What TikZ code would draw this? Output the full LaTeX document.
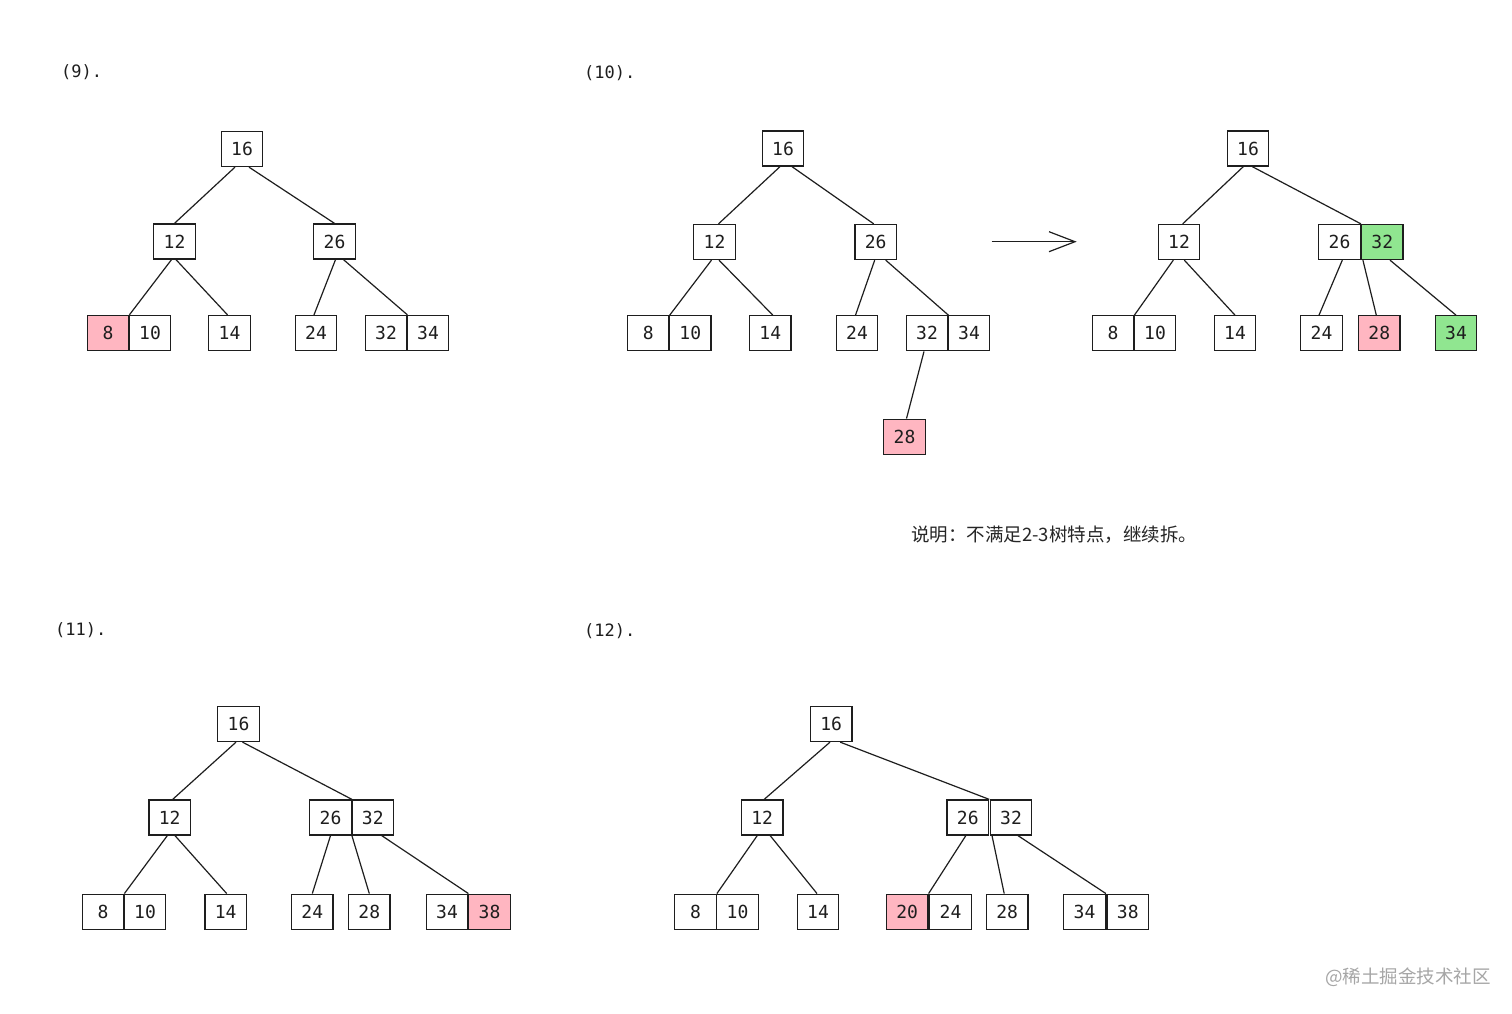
\documentclass[tikz,border=0pt]{standalone}
\usepackage{fontspec}
\newfontfamily\keyfont{DejaVu Sans Mono}
\newfontfamily\cjk{Noto Sans CJK SC}
\usetikzlibrary{arrows.meta}
\definecolor{pinkfill}{RGB}{255,182,193}
\definecolor{greenfill}{RGB}{144,230,144}
\definecolor{inkc}{RGB}{30,30,30}
\tikzset{
  keybox/.style={draw=inkc, line width=1.3pt, minimum width=41.5pt, minimum height=35pt, inner sep=0pt, fill=white, font=\keyfont\fontsize{18}{21}\selectfont, text=inkc},
  pinkbox/.style={keybox, fill=pinkfill},
  greenbox/.style={keybox, fill=greenfill},
  edge/.style={draw=inkc, line width=1.2pt},
  steplabel/.style={anchor=west, inner sep=0pt, font=\keyfont\fontsize{17}{20}\selectfont, text=inkc},
  note/.style={anchor=west, inner sep=0pt, font=\cjk\fontsize{18.5}{21}\selectfont, text=black!85}
}
\begin{document}
\begin{tikzpicture}[x=1pt,y=-1pt]
\useasboundingbox[fill=white] (0,0) rectangle (1512,1014);

% labels
\node[steplabel] (l9) at (61,72) {(9).};
\node[steplabel] (l10) at (584,73) {(10).};
\node[steplabel] (l11) at (55,630) {(11).};
\node[steplabel] (l12) at (584,631) {(12).};

% ---------- panel 9 ----------
\node[keybox] (a16) at (242,149) {16};
\node[keybox] (a12) at (174.5,241.5) {12};
\node[keybox] (a26) at (334.5,241.5) {26};
\node[pinkbox] (a8) at (108,333) {8};
\node[keybox] (a10) at (150,333) {10};
\node[keybox] (a14) at (229.5,333) {14};
\node[keybox] (a24) at (316,333) {24};
\node[keybox] (a32) at (386,333) {32};
\node[keybox] (a34) at (428,333) {34};
\draw[edge] ([xshift=-7pt]a16.south) -- (a12.north);
\draw[edge] ([xshift=7pt]a16.south) -- (a26.north);
\draw[edge] ([xshift=-3pt]a12.south) -- (a8.north east);
\draw[edge] ([xshift=1.5pt]a12.south) -- ([xshift=-2pt]a14.north);
\draw[edge] ([xshift=1pt]a26.south) -- ([xshift=-2pt]a24.north);
\draw[edge] ([xshift=9pt]a26.south) -- (a32.north east);

% ---------- panel 10 left ----------
\node[keybox] (b16) at (783,148.5) {16};
\node[keybox] (b12) at (714.5,242) {12};
\node[keybox] (b26) at (875.7,242) {26};
\node[keybox] (b8) at (648.3,333.3) {8};
\node[keybox] (b10) at (690.3,333.3) {10};
\node[keybox] (b14) at (770.3,333.3) {14};
\node[keybox] (b24) at (857,333.3) {24};
\node[keybox] (b32) at (927,333.3) {32};
\node[keybox] (b34) at (969,333.3) {34};
\node[pinkbox] (b28) at (904.5,436.7) {28};
\draw[edge] ([xshift=-3pt]b16.south) -- ([xshift=4pt]b12.north);
\draw[edge] ([xshift=9pt]b16.south) -- ([xshift=-2pt]b26.north);
\draw[edge] ([xshift=-3pt]b12.south) -- (b8.north east);
\draw[edge] ([xshift=4.5pt]b12.south) -- ([xshift=2.5pt]b14.north);
\draw[edge] ([xshift=-1pt]b26.south) -- ([xshift=-1.5pt]b24.north);
\draw[edge] ([xshift=10pt]b26.south) -- (b32.north east);
\draw[edge] ([xshift=-3pt]b32.south) -- ([xshift=2pt]b28.north);

% arrow
\coordinate (arrS) at (991.7,241.7);
\coordinate (arrE) at (1076.7,241.7);
\draw[edge, -{Straight Barb[length=26pt,width=20pt,line width=1.2pt]}] (arrS) -- (arrE);

% ---------- panel 10 right ----------
\node[keybox] (c16) at (1248,148.5) {16};
\node[keybox] (c12) at (1179,242) {12};
\node[keybox] (c26) at (1339.5,242) {26};
\node[greenbox] (c32) at (1382.3,242) {32};
\node[keybox] (c8) at (1113,333.3) {8};
\node[keybox] (c10) at (1155,333.3) {10};
\node[keybox] (c14) at (1235,333.3) {14};
\node[keybox] (c24) at (1321.5,333.3) {24};
\node[pinkbox] (c28) at (1379.3,333.3) {28};
\node[greenbox] (c34) at (1456,333.3) {34};
\draw[edge] ([xshift=-4.7pt]c16.south) -- ([xshift=3.7pt]c12.north);
\draw[edge] ([xshift=4.3pt]c16.south) -- (c26.north east);
\draw[edge] ([xshift=-5.7pt]c12.south) -- (c8.north east);
\draw[edge] ([xshift=5.3pt]c12.south) -- (c14.north);
\draw[edge] ([xshift=2.8pt]c26.south) -- ([xshift=-2.5pt]c24.north);
\draw[edge] ([xshift=2pt]c26.south east) -- ([xshift=-3pt]c28.north);
\draw[edge] ([xshift=7.7pt]c32.south) -- (c34.north);

% note
\node[note] (note) at (911,535) {说明：不满足2-3树特点，继续拆。};

% ---------- panel 11 ----------
\node[keybox] (d16) at (238.5,724) {16};
\node[keybox] (d12) at (169.7,817.5) {12};
\node[keybox] (d26) at (330.5,817.5) {26};
\node[keybox] (d32) at (372.8,817.5) {32};
\node[keybox] (d8) at (103,911.7) {8};
\node[keybox] (d10) at (145,911.7) {10};
\node[keybox] (d14) at (225.7,911.7) {14};
\node[keybox] (d24) at (312.3,911.7) {24};
\node[keybox] (d28) at (369.3,911.7) {28};
\node[keybox] (d34) at (447,911.7) {34};
\node[pinkbox] (d38) at (489.5,911.7) {38};
\draw[edge] ([xshift=-2.5pt]d16.south) -- ([xshift=3pt]d12.north);
\draw[edge] ([xshift=4pt]d16.south) -- (d26.north east);
\draw[edge] ([xshift=-2.4pt]d12.south) -- (d8.north east);
\draw[edge] ([xshift=5.3pt]d12.south) -- ([xshift=1pt]d14.north);
\draw[edge] (d26.south) -- (d24.north);
\draw[edge] (d26.south east) -- (d28.north);
\draw[edge] ([xshift=9pt]d32.south) -- (d34.north east);

% ---------- panel 12 ----------
\node[keybox] (e16) at (831.2,724) {16};
\node[keybox] (e12) at (762.2,817.5) {12};
\node[keybox] (e26) at (967.8,817.5) {26};
\node[keybox] (e32) at (1011,817.5) {32};
\node[keybox] (e8) at (695.5,911.7) {8};
\node[keybox] (e10) at (737.5,911.7) {10};
\node[keybox] (e14) at (818,911.7) {14};
\node[pinkbox] (e20) at (907.2,911.7) {20};
\node[keybox] (e24) at (950.5,911.7) {24};
\node[keybox] (e28) at (1007.2,911.7) {28};
\node[keybox] (e34) at (1084.5,911.7) {34};
\node[keybox] (e38) at (1127.8,911.7) {38};
\draw[edge] ([xshift=-1.2pt]e16.south) -- ([xshift=2pt]e12.north);
\draw[edge] ([xshift=9pt]e16.south) -- (e26.north east);
\draw[edge] ([xshift=-5pt]e12.south) -- (e8.north east);
\draw[edge] ([xshift=8pt]e12.south) -- ([xshift=-1pt]e14.north);
\draw[edge] ([xshift=-2pt]e26.south) -- (e20.north east);
\draw[edge] ([xshift=-19pt]e32.south) -- ([xshift=-3pt]e28.north);
\draw[edge] ([xshift=7pt]e32.south) -- (e34.north east);

% watermark
\node[note, text=black!35] (wm) at (1325,977) {@稀土掘金技术社区};
\end{tikzpicture}
\end{document}
